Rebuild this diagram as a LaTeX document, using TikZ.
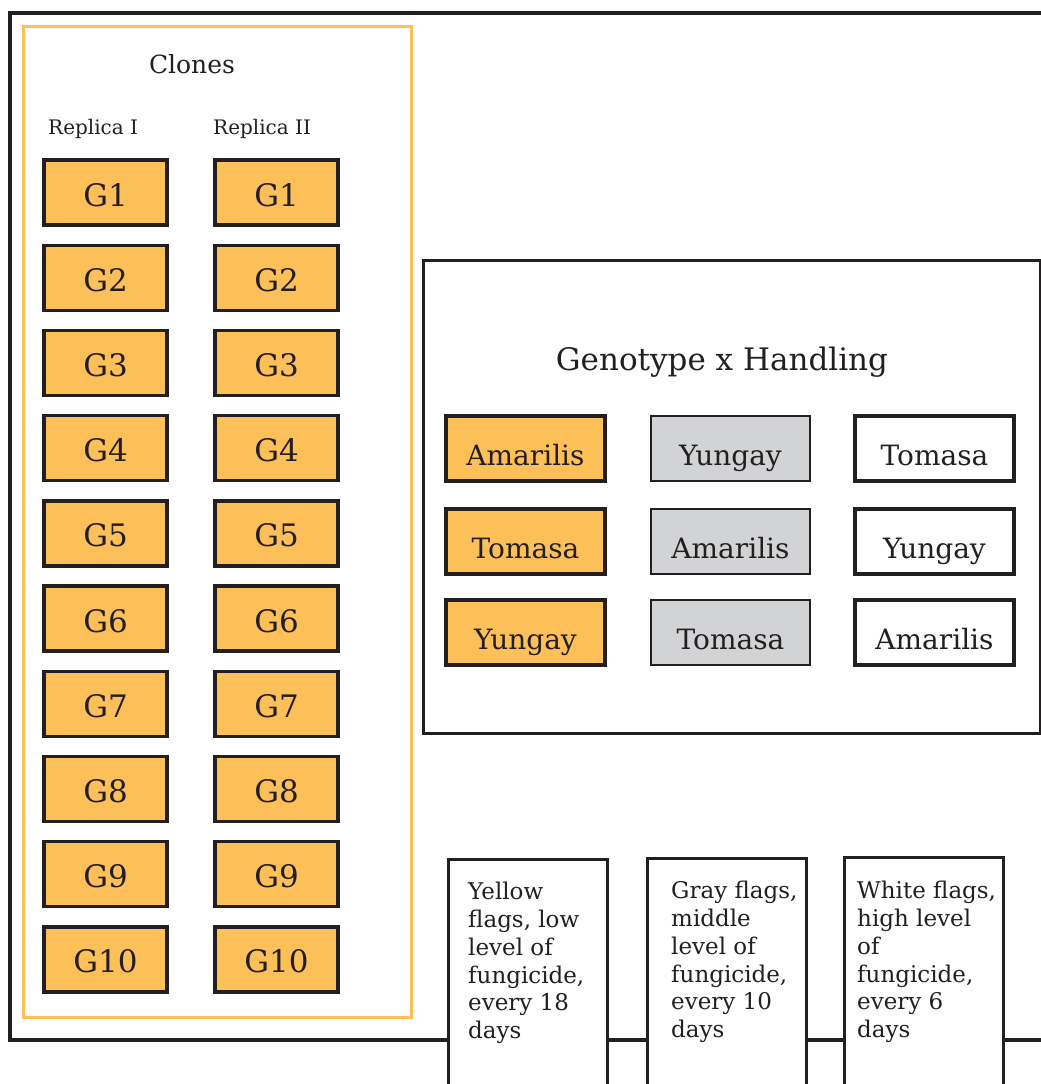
\documentclass[tikz,border=0pt]{standalone}
\usepackage{fontspec}
\setmainfont{DejaVu Serif}
\usepackage{tikz}
\usetikzlibrary{positioning}
\definecolor{cloneorange}{HTML}{FDBF57}
\definecolor{handgray}{HTML}{D1D3D4}
\definecolor{inkdark}{HTML}{231F20}

\begin{document}
\begin{tikzpicture}[
    x=1pt, y=-1pt,
    font=\normalfont,
    frame/.style={
		draw=inkdark,
		line width=3.4pt
	},
	gbox/.style={
		rectangle,
		draw=inkdark,
		line width=3.4pt,
		fill=cloneorange,
		inner sep=0pt,
		minimum width=123pt,
		minimum height=65pt,
		text height=27pt,
		text depth=0pt,
		text=inkdark,
		font=\fontsize{31}{36}\selectfont
	},
	cell/.style={
		rectangle,
		draw=inkdark,
		line width=3.4pt,
		inner sep=0pt,
		minimum width=159pt,
		minimum height=65pt,
		text height=34pt,
		text depth=0pt,
		text=inkdark,
		font=\fontsize{28}{33}\selectfont
	},
	flagbox/.style={
		rectangle,
		draw=inkdark,
		line width=3.4pt,
		fill=white,
		anchor=north west,
		minimum width=159pt,
		minimum height=260pt
	},
	flagtext/.style={
		anchor=north west,
		inner sep=0pt,
		align=left,
		text=inkdark,
		font=\fontsize{23}{27.8}\selectfont
	}
  ]
  \useasboundingbox (0,0) rectangle (1041,1084);
  \clip (0,0) rectangle (1041,1084);

    % We start by drawing the frames
  \draw [frame] (1060,13) -- (10,13) -- (10,1040) -- (1060,1040);
  \node [draw=cloneorange, line width=3.2pt, anchor=north west, minimum width=388pt, minimum height=991pt] (clones) at (22,25) {};
  \node [frame, anchor=north west, minimum width=617pt, minimum height=473pt] (handling) at (422,259) {};

  \node [anchor=base, text=inkdark, font=\fontsize{25}{30}\selectfont] (clonestitle) at (192,73) {Clones};
  \node [anchor=base west, inner sep=0pt, text=inkdark, font=\fontsize{20}{24}\selectfont] (rep1) at (48,134) {Replica I};
  \node [anchor=base west, inner sep=0pt, text=inkdark, font=\fontsize{20}{24}\selectfont] (rep2) at (213,134) {Replica II};

    % Clone blocks
  \foreach \i in {1,...,10} {
    \node [gbox] (repA\i) at (105.5, {192.5+85.2*(\i-1)}) {G\i};
    \node [gbox] (repB\i) at (276.5, {192.5+85.2*(\i-1)}) {G\i};
  }

    % Genotype x Handling blocks
  \node [anchor=base, text=inkdark, font=\fontsize{31}{36}\selectfont] (handtitle) at (722,370) {Genotype x Handling};

  \node [cell, fill=cloneorange] (low1) at (525.5,448.5) {Amarilis};
  \node [cell, fill=cloneorange] (low2) at (525.5,541.5) {Tomasa};
  \node [cell, fill=cloneorange] (low3) at (525.5,632.5) {Yungay};

  \node [cell, fill=handgray, line width=2.8pt] (mid1) at (730.5,448.5) {Yungay};
  \node [cell, fill=handgray, line width=2.8pt] (mid2) at (730.5,541.5) {Amarilis};
  \node [cell, fill=handgray, line width=2.8pt] (mid3) at (730.5,632.5) {Tomasa};

  \node [cell, fill=white] (high1) at (934.5,448.5) {Tomasa};
  \node [cell, fill=white] (high2) at (934.5,541.5) {Yungay};
  \node [cell, fill=white] (high3) at (934.5,632.5) {Amarilis};

    % Flag blocks
  \node [flagbox] (flagY) at (447,858) {};
  \node [flagbox] (flagG) at (646,857) {};
  \node [flagbox] (flagW) at (843,856) {};

  \node [flagtext] (txtY) at (468,882) {Yellow\\flags, low\\level of\\fungicide,\\every 18\\days};
  \node [flagtext] (txtG) at (671,881) {Gray flags,\\middle\\level of\\fungicide,\\every 10\\days};
  \node [flagtext] (txtW) at (857,881) {White flags,\\high level\\of\\fungicide,\\every 6\\days};

\end{tikzpicture}
\end{document}
